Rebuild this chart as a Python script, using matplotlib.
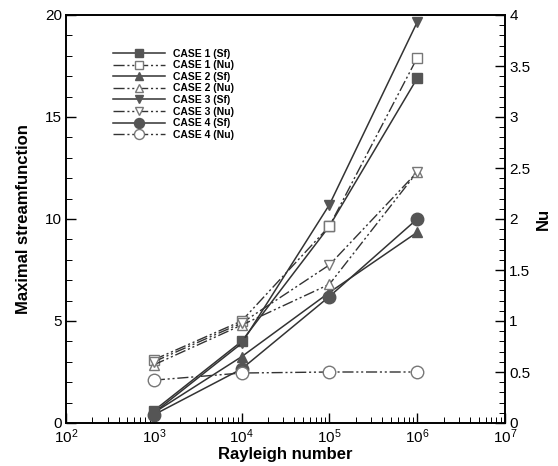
import matplotlib
matplotlib.use("Agg")
import matplotlib.pyplot as plt
from matplotlib.ticker import MultipleLocator

plt.rcParams['font.family'] = ['Liberation Sans', 'DejaVu Sans']

rayleigh = [1e3, 1e4, 1e5, 1e6]
case1_sf = [0.6, 4.0, 9.65, 16.9]
case1_nu = [0.62, 1.0, 1.93, 3.58]
case2_sf = [0.5, 3.25, 6.4, 9.35]
case2_nu = [0.57, 0.96, 1.36, 2.46]
case3_sf = [0.5, 3.9, 10.7, 19.65]
case3_nu = [0.6, 0.98, 1.55, 2.46]
case4_sf = [0.4, 2.65, 6.2, 10.0]
case4_nu = [0.42, 0.49, 0.5, 0.5]

labels = ["CASE 1 (Sf)", "CASE 1 (Nu)", "CASE 2 (Sf)", "CASE 2 (Nu)",
          "CASE 3 (Sf)", "CASE 3 (Nu)", "CASE 4 (Sf)", "CASE 4 (Nu)"]
nu_ticks = [0, 0.5, 1, 1.5, 2, 2.5, 3, 3.5, 4]
nu_ticklabels = ['0', '0.5', '1', '1.5', '2', '2.5', '3', '3.5', '4']

fig = plt.figure(figsize=(5.58, 4.66), dpi=100)
ax = fig.add_axes([66/558, 1 - 423/466, (505-66)/558, (423-15)/466])
ax2 = ax.twinx()

lc = '#333333'
mc = '#555555'
dadot = (0, (8, 2, 1.5, 2, 1.5, 2))

sf_sets = [(case1_sf, 's', 7), (case2_sf, '^', 7), (case3_sf, 'v', 7), (case4_sf, 'o', 9)]
nu_sets = [(case1_nu, 's', 7), (case2_nu, '^', 7), (case3_nu, 'v', 7), (case4_nu, 'o', 9)]

handles = []
for i in range(4):
    ys, m, ms = sf_sets[i]
    h1, = ax.plot(rayleigh, ys, color=lc, lw=1.1, ls='-', marker=m, ms=ms,
                  mfc=mc, mec=mc, zorder=3)
    yn, mn, msn = nu_sets[i]
    h2, = ax2.plot(rayleigh, yn, color=lc, lw=1.0, ls=dadot, marker=mn, ms=msn,
                   mfc='white', mec='#777777', zorder=3)
    handles += [h1, h2]

ax.set_xscale('log')
ax.set_xlim(1e2, 1e7)
ax.set_ylim(0, 20)
ax2.set_ylim(0, 4)

ax.yaxis.set_major_locator(MultipleLocator(5))
ax.yaxis.set_minor_locator(MultipleLocator(1))
ax2.set_yticks(nu_ticks)
ax2.set_yticklabels(nu_ticklabels)
ax2.yaxis.set_minor_locator(MultipleLocator(0.1))

ax.tick_params(axis='both', which='major', direction='in', length=7, width=1.0,
               labelsize=11, top=False, pad=3)
ax.tick_params(axis='both', which='minor', direction='in', length=4, width=0.7, top=False)
ax.tick_params(axis='y', which='both', right=False)
ax2.tick_params(axis='y', which='major', direction='in', length=7, width=1.0,
                labelsize=11, pad=3)
ax2.tick_params(axis='y', which='minor', direction='in', length=4, width=0.7)

for sp in list(ax.spines.values()) + list(ax2.spines.values()):
    sp.set_linewidth(1.2)

ax.set_xlabel('Rayleigh number', fontsize=12, fontweight='bold', labelpad=1)
ax.set_ylabel('Maximal streamfunction', fontsize=12, fontweight='bold', labelpad=10)
ax2.set_ylabel('Nu', fontsize=12, fontweight='bold', labelpad=4)

ax.legend(handles, labels, loc='upper left', bbox_to_anchor=(0.09, 0.935),
          frameon=False, handlelength=5, labelspacing=0.15,
          borderpad=0.2, handletextpad=0.8, markerscale=0.8,
          prop={'weight': 'bold', 'size': 7.5})

fig.savefig('out.png', dpi=100)
